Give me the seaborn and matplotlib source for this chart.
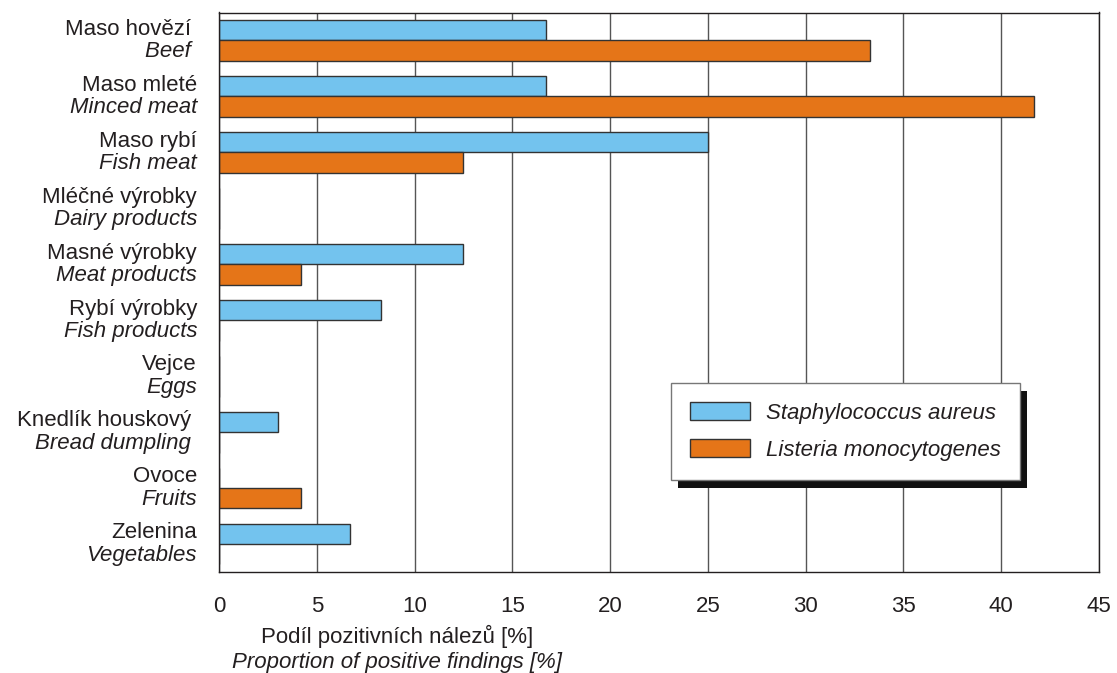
#!/usr/bin/env python3
"""Positive findings of S. aureus and L. monocytogenes by food category."""

import matplotlib

matplotlib.use("Agg")
import matplotlib.pyplot as plt
from matplotlib.patches import Rectangle
import pandas as pd
import seaborn as sns

labels_cz = [
	"Maso hovězí ", "Maso mleté", "Maso rybí", "Mléčné výrobky", "Masné výrobky",
	"Rybí výrobky", "Vejce", "Knedlík houskový ", "Ovoce", "Zelenina",
]
labels_en = [
	"Beef ", "Minced meat", "Fish meat", "Dairy products", "Meat products",
	"Fish products", "Eggs", "Bread dumpling ", "Fruits", "Vegetables",
]
staph_aureus = [16.7, 16.7, 25.0, 0.0, 12.5, 8.3, 0.0, 3.0, 0.0, 6.7]
listeria_mono = [33.3, 41.7, 12.5, 0.0, 4.2, 0.0, 0.0, 0.0, 4.2, 0.0]
series_names = ["Staphylococcus aureus", "Listeria monocytogenes"]
x_ticks = [0, 5, 10, 15, 20, 25, 30, 35, 40, 45]

BLUE = "#73C3EE"
ORANGE = "#E57518"
INK = "#231F20"
FS = 16


def build_frame() -> pd.DataFrame:
	rows = []
	for i, cat in enumerate(labels_cz):
		rows.append({"cat": cat, "series": series_names[0], "value": staph_aureus[i]})
		rows.append({"cat": cat, "series": series_names[1], "value": listeria_mono[i]})
	return pd.DataFrame(rows)


def main() -> None:
	sns.set_theme(style="white")
	plt.rcParams["font.family"] = ["Liberation Sans", "DejaVu Sans"]

	df = build_frame()
	fig = plt.figure(figsize=(11.17, 6.73), dpi=100)
	ax = fig.add_axes([219 / 1117, 1 - 572 / 673, 880 / 1117, 559.5 / 673])

	sns.barplot(
		data=df, y="cat", x="value", hue="series", order=labels_cz,
		hue_order=series_names, palette=[BLUE, ORANGE], width=0.73,
		edgecolor="#333333", linewidth=1.0, saturation=1, ax=ax, legend=True,
	)

	ax.set_xlim(0, 45)
	ax.set_ylim(len(labels_cz) - 0.5, -0.5)
	ax.set_xticks(x_ticks)
	ax.set_xticklabels([str(t) for t in x_ticks], fontsize=FS)
	ax.tick_params(axis="x", direction="out", length=5, width=1, pad=12,
				   colors=INK, labelcolor=INK)
	ax.set_yticks([])
	ax.set_ylabel("")
	ax.set_xlabel("")
	ax.set_axisbelow(True)
	ax.grid(axis="x", color="#555555", linewidth=1)
	for sp in ax.spines.values():
		sp.set_visible(True)
		sp.set_color(INK)
		sp.set_linewidth(1)

	# two-line category labels aligned with the bars
	ytr = ax.get_yaxis_transform()
	for i in range(len(labels_cz)):
		ax.text(-0.025, i - 0.2, labels_cz[i], transform=ytr, ha="right", va="center",
				fontsize=FS, color=INK)
		ax.text(-0.025, i + 0.2, labels_en[i], transform=ytr, ha="right", va="center",
				fontsize=FS, style="italic", color=INK)

	# x axis title, two lines
	ax.text(0.202, -0.115, "Podíl pozitivních nálezů [%]", transform=ax.transAxes,
			ha="center", va="center", fontsize=FS, color=INK)
	ax.text(0.202, -0.161, "Proportion of positive findings [%]", transform=ax.transAxes,
			ha="center", va="center", fontsize=FS, style="italic", color=INK)

	ax.get_legend().remove()
	handles = [
		Rectangle((0, 0), 1, 1, facecolor=BLUE, edgecolor="#333333", linewidth=1),
		Rectangle((0, 0), 1, 1, facecolor=ORANGE, edgecolor="#333333", linewidth=1),
	]
	leg = ax.legend(
		handles, series_names, loc="upper left", bbox_to_anchor=(0.514, 0.338),
		prop={"size": FS, "style": "italic"}, frameon=True, fancybox=False,
		handlelength=2.7, handleheight=0.9, handletextpad=0.7, borderpad=0.85,
		labelspacing=0.68, borderaxespad=0,
	)
	leg.get_frame().set_edgecolor("#777777")
	leg.get_frame().set_linewidth(1)
	leg.get_frame().set_alpha(1)
	leg.set_zorder(6)
	for t in leg.get_texts():
		t.set_color(INK)

	# hard black drop shadow behind the legend box
	fig.canvas.draw()
	bb = leg.get_window_extent().transformed(ax.transAxes.inverted())
	dx = 7 / 880
	dy = 8 / 559.5
	ax.add_patch(Rectangle((bb.x0 + dx, bb.y0 - dy), bb.width, bb.height,
						   transform=ax.transAxes, facecolor="#111111",
						   edgecolor="none", zorder=5.5, clip_on=False))

	fig.savefig("out.png", dpi=100)
	plt.close(fig)


if __name__ == "__main__":
	main()
